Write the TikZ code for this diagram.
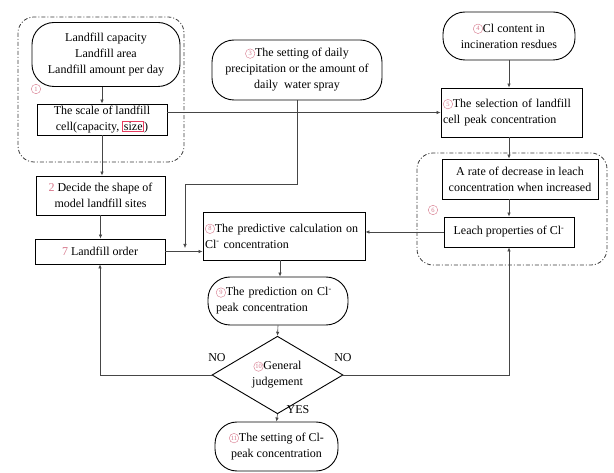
\documentclass[tikz,border=0pt]{standalone}
\usepackage{fontspec}
\setmainfont{Liberation Serif}
\usetikzlibrary{shapes.geometric,arrows.meta,calc}
\definecolor{cpink}{RGB}{215,120,140}
\definecolor{markred}{RGB}{230,60,95}
\definecolor{linegrey}{RGB}{70,70,70}
\definecolor{groupgrey}{RGB}{60,60,60}
% small circled step number (options reset so the host node's sizes do not leak in)
\newcommand{\cn}[1]{\tikz[baseline=-0.6ex]\node[circle,draw=cpink,text=cpink,line width=0.4pt,inner sep=0pt,
  minimum width=9.5pt,minimum height=9.5pt,text width={},align=center,rounded corners=0pt,
  font=\fontsize{6.5}{6.5}\selectfont]{#1};}
\newcommand{\pn}[1]{\textcolor{cpink}{#1}}
\newcommand{\redbox}[1]{{\setlength{\fboxsep}{0.6pt}\setlength{\fboxrule}{0.9pt}\fcolorbox{markred}{white}{#1}}}
\begin{document}
\begin{tikzpicture}[x=1pt,y=-1pt,
  every node/.style={font=\fontsize{12}{16}\selectfont},
  box/.style={draw,line width=0.9pt,rectangle,align=center,inner sep=1pt},
  oval/.style={draw,line width=0.9pt,rectangle,rounded corners=22pt,align=center,inner sep=1pt},
  judge/.style={draw,line width=0.9pt,diamond,align=center,inner sep=0pt},
  group/.style={draw=groupgrey,line width=0.8pt,rounded corners=16pt,dash pattern=on 4pt off 2pt on 1pt off 2pt},
  arr/.style={draw=linegrey,line width=0.6pt,-{Latex[length=4pt,width=3.5pt]}},
  lbl/.style={font=\fontsize{12}{14}\selectfont}]
\useasboundingbox (0,0) rectangle (614,473);
\fill[white] (0,0) rectangle (614,473);

% dash-dot groups
\draw[group] (18,17) rectangle (184,162);
\draw[group] (417,153) rectangle (607,265);
\node (n1) at (36,89) {\cn{1}};
\node (n6) at (433,210) {\cn{6}};

% left column
\node[oval,minimum width=148pt,minimum height=64pt] (A) at (106,54.5)
  {Landfill capacity\\Landfill area\\Landfill amount per day};
\node[box,minimum width=130pt,minimum height=31pt] (B) at (102,119.5)
  {The scale of landfill\\cell(capacity, \redbox{size})};
\node[box,minimum width=129pt,minimum height=39pt] (C) at (100.5,195.5)
  {\pn{2} Decide the shape of\\model landfill sites};
\node[box,minimum width=130pt,minimum height=25pt] (D) at (100,251.5)
  {\pn{7} Landfill order};

% middle column
\node[oval,minimum width=170pt,minimum height=60pt] (E) at (297,70)
  {\cn{3}The setting of daily\\precipitation or the amount of\\daily\ \ water spray};
\node[box,minimum width=162pt,minimum height=48pt,align=left,text width=158pt] (J) at (284,236)
  {\cn{8}The predictive calculation on\\Cl\textsuperscript{-} concentration};
\node[oval,minimum width=140pt,minimum height=48pt,align=left,text width=124pt] (K) at (278,301)
  {\cn{9}The prediction on Cl\textsuperscript{-}\\peak concentration};
\node[judge,minimum width=131pt,minimum height=56pt] (L) at (277.5,375)
  {\cn{10}General\\judgement};
\node[oval,minimum width=123pt,minimum height=49pt] (M) at (276.5,446.5)
  {\cn{11}The setting of Cl-\\peak concentration};

% right column
\node[oval,minimum width=132pt,minimum height=48pt] (G) at (509,36)
  {\cn{4}Cl content in\\incineration resdues};
\node[box,minimum width=141pt,minimum height=49pt,align=left,text width=137pt] (F) at (511.5,112.5)
  {\cn{5}The selection of landfill\\cell peak concentration};
\node[box,minimum width=156pt,minimum height=40pt] (H) at (520,179)
  {A rate of decrease in leach\\concentration when increased};
\node[box,minimum width=130pt,minimum height=30pt] (I) at (509,232)
  {Leach properties of Cl\textsuperscript{-}};

% connectors
\draw[arr] (B.north |- A.south) -- (B.north);
\draw[arr] (B.south) -- (B.south |- C.north);
\draw[arr] (C.south) -- (C.south |- D.north);
\draw[arr] (B.east |- F.west) -- (F.west);
\draw[arr] (G.south) -- (G.south |- F.north);
\draw[arr] (F.south -| I.north) -- (H.north -| I.north);
\draw[arr] (H.south -| I.north) -- (I.north);
\draw[arr] (I.west) -- (J.east |- I.west);
\draw[arr] (D.east) -- (D.east -| J.west);
\coordinate (ebend) at (185,184);
\coordinate (ejoin) at (185,248);
\draw[arr] (E.south) |- (ebend) -- (ejoin);
\draw[arr] (J.south -| 280,0) -- (K.north -| 280,0);
\draw[arr] (K.south) -- (L.north);
\draw[arr] (L.west) -| (D.south);
\draw[arr] (L.east) -| (I.south);
\draw[arr] (L.south) -- (M.north);

% branch labels
\node[lbl] (no1) at (217,358) {NO};
\node[lbl] (no2) at (343,358) {NO};
\node[lbl] (yes) at (298,410) {YES};
\end{tikzpicture}
\end{document}
